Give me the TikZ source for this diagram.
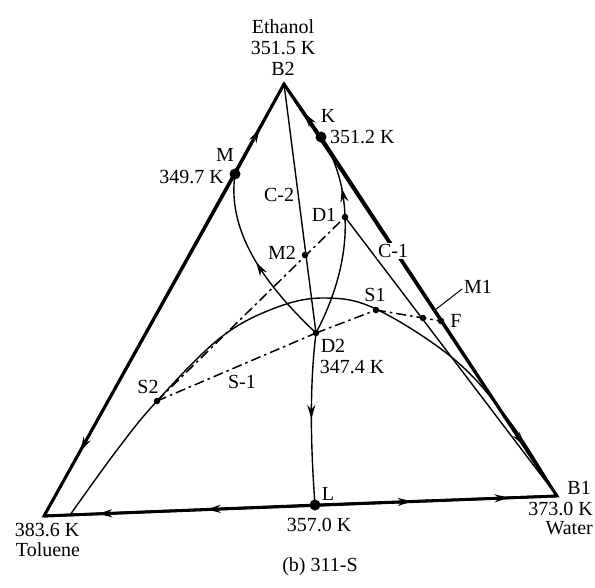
\documentclass[tikz,border=0pt]{standalone}
\usepackage{fontspec}
\setmainfont{Liberation Serif}
\usetikzlibrary{arrows.meta,decorations.markings}
\tikzset{
  edge/.style={line width=2.8pt, line join=miter},
  fine/.style={line width=1.4pt},
  chain/.style={line width=1.5pt, dash pattern=on 10pt off 4pt on 2.5pt off 4pt},
  bigdot/.style={circle, fill=black, inner sep=0pt, minimum size=11pt},
  smalldot/.style={circle, fill=black, inner sep=0pt, minimum size=6.5pt},
  lbl/.style={inner sep=0pt, font=\fontsize{20}{21}\selectfont},
  midarrow/.style={postaction={decorate, decoration={markings,
      mark=at position #1 with {\arrow{Stealth[length=14pt,width=8pt]}}}}},
}
\begin{document}
\begin{tikzpicture}[x=1pt,y=-1pt]
\useasboundingbox (0,0) rectangle (595,587);
% key points
\coordinate (B2) at (284,84);
\coordinate (T) at (44,516);
\coordinate (B1) at (557,496);
\coordinate (M) at (235,174);
\coordinate (K) at (321,137);
\coordinate (L) at (315,505);
\coordinate (D1) at (345,217);
\coordinate (M2) at (305,255);
\coordinate (D2) at (316,333);
\coordinate (S1) at (376,310);
\coordinate (S2) at (157,401);
\coordinate (M1) at (423,318);
\coordinate (F) at (441,321);
\coordinate (lead1) at (435,310);
\coordinate (lead2) at (462,289);
% triangle
\draw[edge] (T) -- (B2) -- (B1) -- cycle;
\draw[edge, midarrow=0.81] (M) -- (T);
\draw[edge, midarrow=0.5] (M) -- (B2);
\draw[edge, midarrow=0.45] (K) -- (B2);
\draw[edge, midarrow=0.86] (K) -- (B1);
\draw[edge, midarrow=0.4, midarrow=0.8] (L) -- (T);
\draw[edge, midarrow=0.4, midarrow=0.8] (L) -- (B1);
% binodal curve
\draw[fine] plot[smooth, tension=0.6] coordinates {(70,515) (117,450) (157,401) (220,338) (275,308) (324,298) (376,309) (455,360) (510,422) (557,496)};
% residue curves / boundaries
\draw[fine, midarrow=0.5] (D2) .. controls (262,282) and (227,230) .. (M);
\draw[fine, midarrow=0.73] (D2) .. controls (336,295) and (347,255) .. (D1) .. controls (344,185) and (335,158) .. (K);
\draw[fine, midarrow=0.5] (D2) .. controls (309,390) and (311,450) .. (L);
% column lines
\draw[fine] (B2) -- (D2);
\draw[fine] (D1) -- (B1);
% tie / mass-balance lines
\draw[chain] (S2) -- (D1);
\draw[chain] (S2) -- (D2);
\draw[chain] (D2) -- (S1);
\draw[chain] (S1) -- (F);
\draw[line width=1pt] (lead1) -- (lead2);
% dots
\node[bigdot] (dM) at (M) {};
\node[bigdot] (dK) at (K) {};
\node[bigdot] (dL) at (L) {};
\node[smalldot] (dD1) at (D1) {};
\node[smalldot] (dM2) at (M2) {};
\node[smalldot] (dD2) at (D2) {};
\node[smalldot] (dS1) at (S1) {};
\node[smalldot] (dS2) at (S2) {};
\node[smalldot] (dM1) at (M1) {};
\node[smalldot] (dF) at (F) {};
% labels
\node[lbl, align=center] (ltop) at (283,48) {Ethanol\\351.5 K\\B2};
\node[lbl] (lK) at (328,116) {K};
\node[lbl, anchor=west] (lKt) at (330,137) {351.2 K};
\node[lbl] (lM) at (225,155) {M};
\node[lbl, anchor=east] (lMt) at (224,177) {349.7 K};
\node[lbl] (lC2) at (279,195) {C-2};
\node[lbl] (lD1) at (324,215) {D1};
\node[lbl] (lM2) at (282,253) {M2};
\node[lbl, fill=white, inner sep=1.5pt] (lC1) at (393,251) {C-1};
\node[lbl] (lM1) at (478,287) {M1};
\node[lbl] (lS1) at (375,295) {S1};
\node[lbl] (lF) at (456,321) {F};
\node[lbl] (lD2) at (333,346) {D2};
\node[lbl] (lD2t) at (352,367) {347.4 K};
\node[lbl] (lS2) at (148,387) {S2};
\node[lbl] (lS) at (242,382) {S-1};
\node[lbl] (lL) at (328,494) {L};
\node[lbl] (lLt) at (319,525) {357.0 K};
\node[lbl, anchor=east] (lB1) at (591,488) {B1};
\node[lbl, anchor=east] (lB1t) at (593,509) {373.0 K};
\node[lbl, anchor=east] (lW) at (593,528) {Water};
\node[lbl] (lTt) at (47,530) {383.6 K};
\node[lbl] (lT) at (48,550) {Toluene};
\node[lbl] (cap) at (320,567) {(b) 311-S};
\end{tikzpicture}
\end{document}
